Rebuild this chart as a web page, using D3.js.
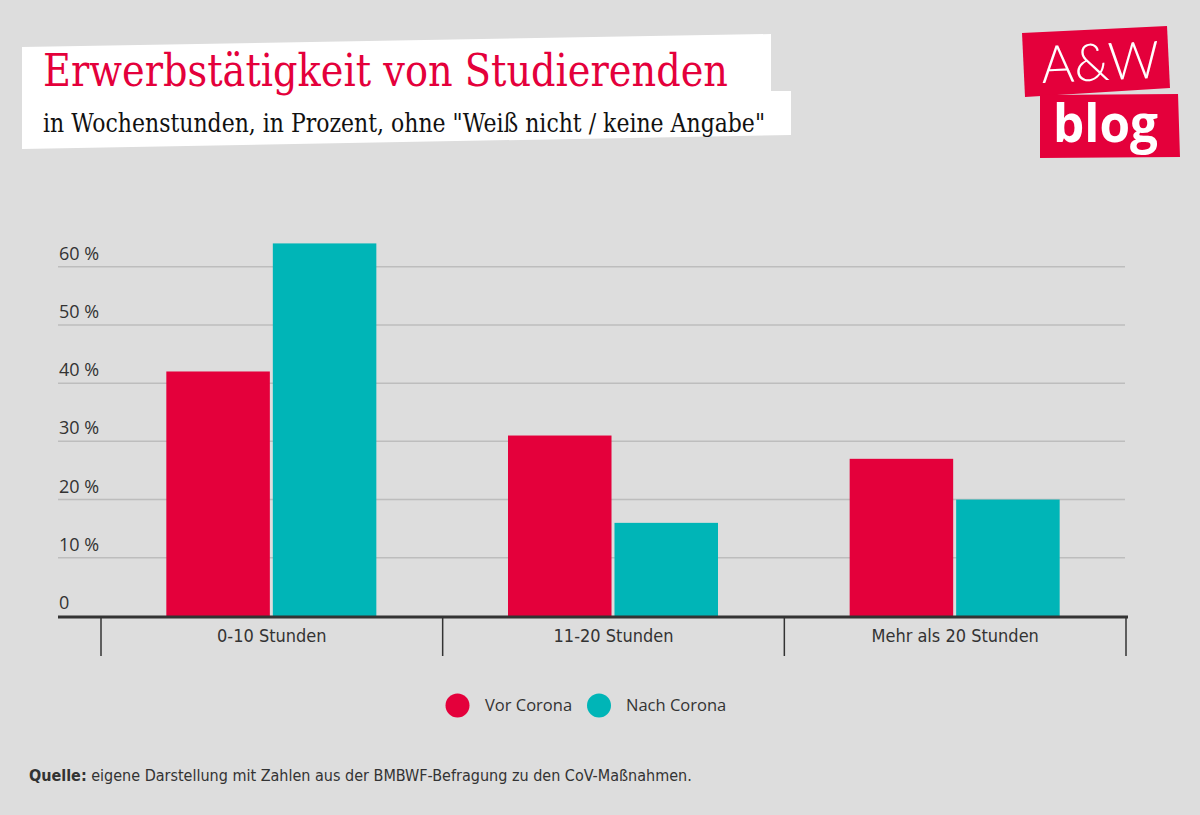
<!DOCTYPE html>
<html>
<head>
<meta charset="utf-8">
<script src="https://cdn.jsdelivr.net/npm/d3@7"></script>
<style>
  html, body { margin: 0; padding: 0; background: #dddddd; }
  svg { display: block; }
</style>
</head>
<body>
<svg id="chart" width="1200" height="815"></svg>
<script>
// ---- data ----
const categories = ["0-10 Stunden", "11-20 Stunden", "Mehr als 20 Stunden"];
const seriesNames = ["Vor Corona", "Nach Corona"];
const vorCorona = [42, 31, 27];
const nachCorona = [64, 16, 20];
const yTicks = [0, 10, 20, 30, 40, 50, 60];
const yTickLabels = ["0", "10 %", "20 %", "30 %", "40 %", "50 %", "60 %"];
const titleText = "Erwerbstätigkeit von Studierenden";
const subtitleText = "in Wochenstunden, in Prozent, ohne \"Weiß nicht / keine Angabe\"";
const sourceBold = "Quelle:";
const sourceText = " eigene Darstellung mit Zahlen aus der BMBWF-Befragung zu den CoV-Maßnahmen.";

const RED = "#e4003b";
const TEAL = "#00b5b7";
const colors = [RED, TEAL];
const seriesValues = [vorCorona, nachCorona];

const svg = d3.select("#chart");

// background
svg.append("rect").attr("width", 1200).attr("height", 815).attr("fill", "#dddddd");

// ---- title block ----
svg.append("path")
  .attr("d", "M22,47 L771,34 L771,91 L791,91 L791,135 L22,149 Z")
  .attr("fill", "#ffffff");

svg.append("text")
  .attr("x", 43).attr("y", 86)
  .attr("font-family", "'DejaVu Serif', serif")
  .attr("font-size", 44)
  .attr("fill", RED)
  .attr("textLength", 685)
  .attr("lengthAdjust", "spacingAndGlyphs")
  .text(titleText);

svg.append("text")
  .attr("x", 43).attr("y", 132)
  .attr("font-family", "'DejaVu Serif', serif")
  .attr("font-size", 26)
  .attr("fill", "#111111")
  .attr("textLength", 722)
  .attr("lengthAdjust", "spacingAndGlyphs")
  .text(subtitleText);

// ---- logo ----
svg.append("path")
  .attr("d", "M1022,33 L1167,26 L1170,88 L1025,97 Z")
  .attr("fill", RED);
svg.append("path")
  .attr("d", "M1040,95 L1178,94 L1180,157 L1040,158 Z")
  .attr("fill", RED);
svg.append("text")
  .attr("x", 1042).attr("y", 83)
  .attr("transform", "rotate(-2.5,1042,83)")
  .attr("font-family", "Lato, 'Open Sans', sans-serif")
  .attr("font-weight", 300)
  .attr("font-size", 52)
  .attr("fill", "#ffffff")
  .attr("textLength", 118)
  .attr("lengthAdjust", "spacingAndGlyphs")
  .text("A&W");
svg.append("text")
  .attr("x", 1053).attr("y", 142)
  .attr("font-family", "'Open Sans', Lato, sans-serif")
  .attr("font-weight", 700)
  .attr("font-size", 52)
  .attr("fill", "#ffffff")
  .attr("textLength", 105)
  .attr("lengthAdjust", "spacingAndGlyphs")
  .text("blog");

// ---- scales ----
const plotLeft = 58;
const y = d3.scaleLinear().domain([0, 60]).range([616, 266.7]);
const x0 = d3.scaleBand().domain(categories).range([101, 1126]).paddingInner(0).paddingOuter(0);
const groupW = 210;
const x1 = d3.scaleBand().domain(seriesNames)
  .range([(x0.bandwidth() - groupW) / 2 - 0.5, (x0.bandwidth() + groupW) / 2 - 0.5])
  .paddingInner(0.028).paddingOuter(0);

// gridlines
svg.append("g").selectAll("line")
  .data(yTicks.filter(t => t > 0))
  .join("line")
  .attr("x1", plotLeft).attr("x2", 1125)
  .attr("y1", d => y(d)).attr("y2", d => y(d))
  .attr("stroke", "#bdbdbd").attr("stroke-width", 1.5);

// y labels
svg.append("g").selectAll("text")
  .data(yTicks)
  .join("text")
  .attr("x", 59)
  .attr("y", d => y(d) - 7)
  .attr("font-family", "'Open Sans', 'Noto Sans', sans-serif")
  .attr("font-size", 18)
  .attr("fill", "#333333")
  .text((d, i) => yTickLabels[i]);

// bars
const groups = svg.append("g").selectAll("g")
  .data(categories)
  .join("g")
  .attr("transform", d => `translate(${x0(d)},0)`);

groups.selectAll("rect")
  .data((d, i) => seriesNames.map((s, j) => ({ s, v: seriesValues[j][i], c: colors[j] })))
  .join("rect")
  .attr("x", d => x1(d.s))
  .attr("width", x1.bandwidth())
  .attr("y", d => y(d.v))
  .attr("height", d => y(0) - y(d.v))
  .attr("fill", d => d.c);

// baseline
svg.append("line")
  .attr("x1", plotLeft).attr("x2", 1128)
  .attr("y1", 617).attr("y2", 617)
  .attr("stroke", "#333333").attr("stroke-width", 3);

// category separators
const seps = categories.map(c => x0(c)).concat([x0.range()[1]]);
svg.append("g").selectAll("line")
  .data(seps)
  .join("line")
  .attr("x1", d => d).attr("x2", d => d)
  .attr("y1", 617).attr("y2", 656)
  .attr("stroke", "#333333").attr("stroke-width", 1.5);

// category labels
svg.append("g").selectAll("text")
  .data(categories)
  .join("text")
  .attr("x", d => x0(d) + x0.bandwidth() / 2)
  .attr("y", 642)
  .attr("text-anchor", "middle")
  .attr("font-family", "'Liberation Sans Narrow', 'DejaVu Sans Condensed', 'Roboto', sans-serif")
  .attr("font-size", 18)
  .attr("fill", "#333333")
  .text(d => d);

// legend
const legendItems = [
  { name: seriesNames[0], c: colors[0], cx: 457.5, tx: 485 },
  { name: seriesNames[1], c: colors[1], cx: 599, tx: 626 }
];
const lg = svg.append("g");
lg.selectAll("circle").data(legendItems).join("circle")
  .attr("cx", d => d.cx).attr("cy", 705.5).attr("r", 12)
  .attr("fill", d => d.c);
lg.selectAll("text").data(legendItems).join("text")
  .attr("x", d => d.tx).attr("y", 711)
  .attr("font-family", "'Open Sans', 'Noto Sans', sans-serif")
  .attr("font-size", 16.5)
  .attr("fill", "#333333")
  .text(d => d.name);

// source
const src = svg.append("text")
  .attr("x", 29).attr("y", 781)
  .attr("font-family", "'Liberation Sans Narrow', 'DejaVu Sans Condensed', 'Roboto', sans-serif")
  .attr("font-size", 16)
  .attr("fill", "#333333");
src.append("tspan").attr("font-weight", 700).text(sourceBold);
src.append("tspan").text(sourceText);
</script>
</body>
</html>
